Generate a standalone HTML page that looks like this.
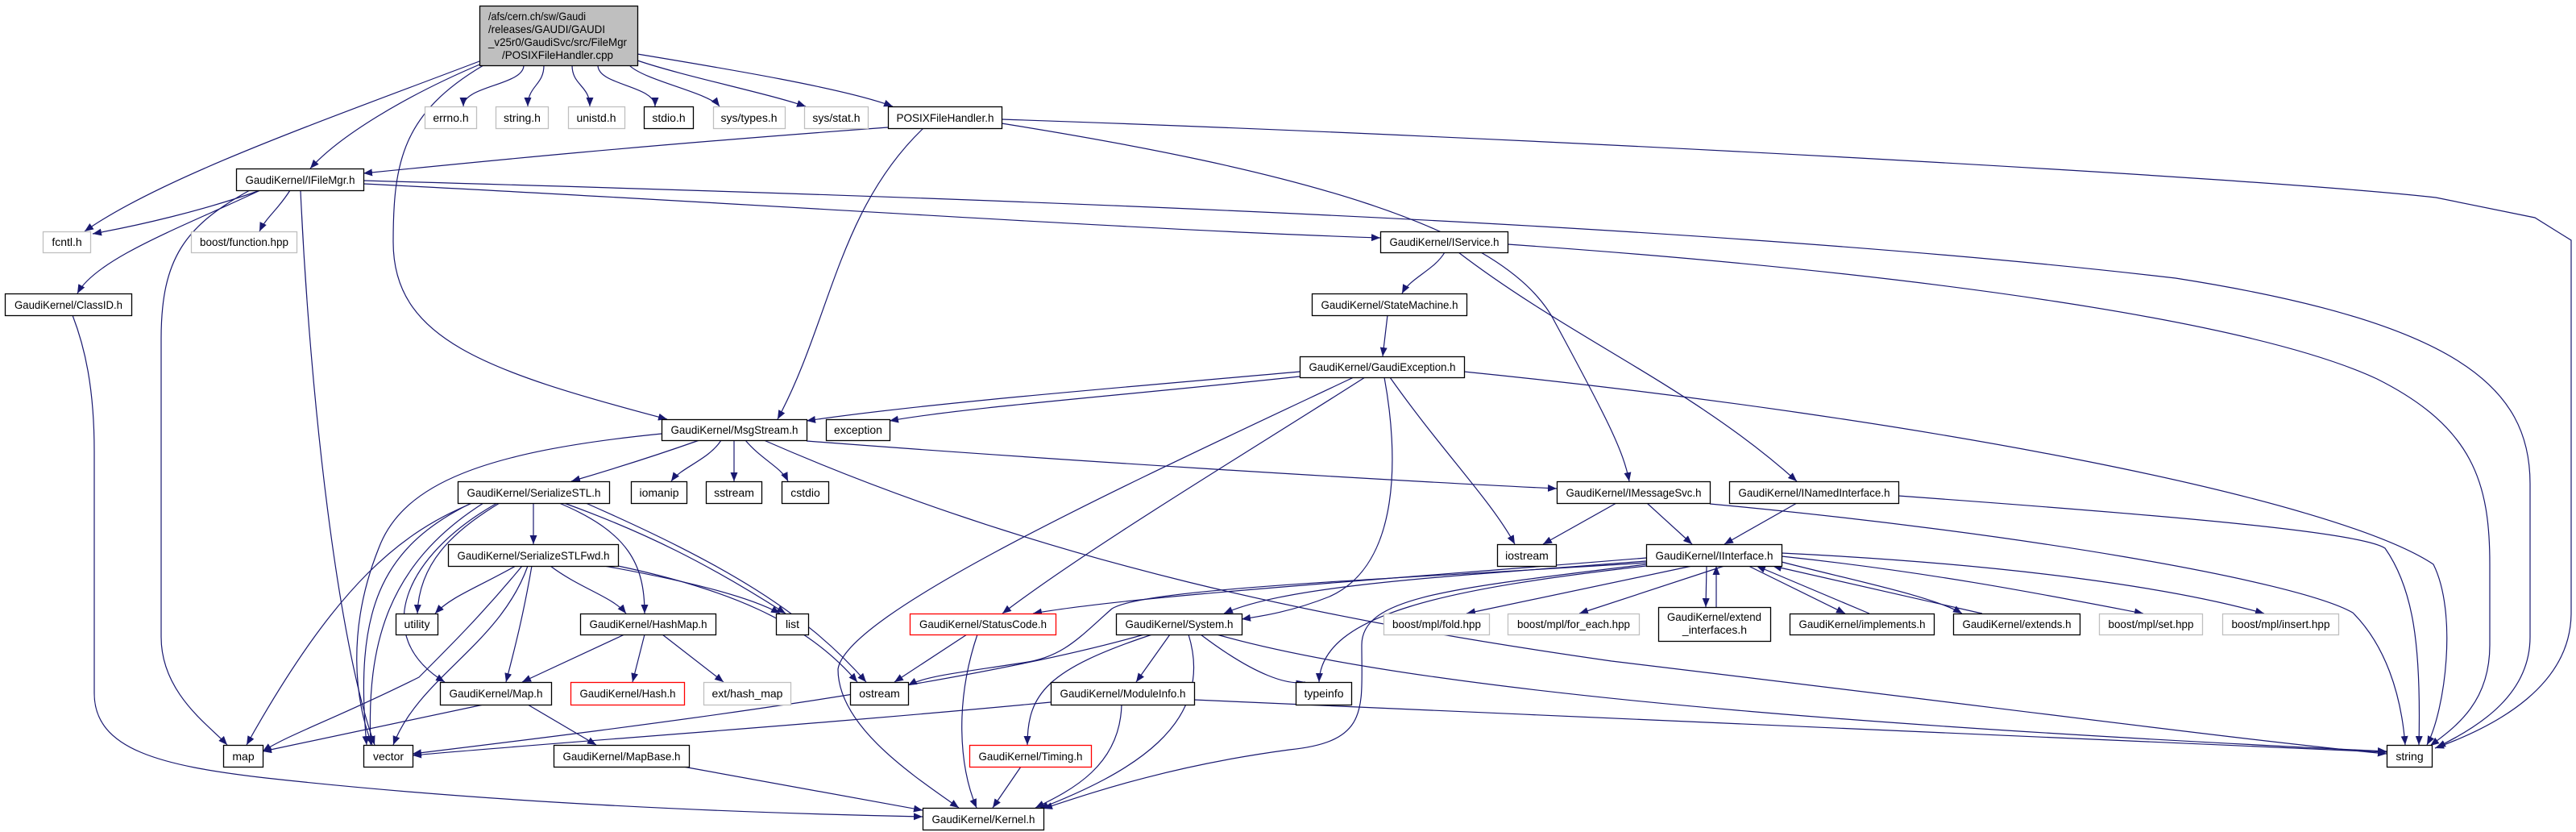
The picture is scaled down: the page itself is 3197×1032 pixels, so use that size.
<!DOCTYPE html>
<html><head><meta charset="utf-8"><style>
html,body{margin:0;padding:0;background:#fff;}
svg{display:block;}
text{font-family:"Liberation Sans",sans-serif;font-size:14px;fill:#000;}
.e{fill:none;stroke:#191970;stroke-width:1.2;marker-end:url(#a);}
rect{stroke-width:1.3;}
.n{fill:#fff;stroke:#000;}
.g{fill:#fff;stroke:#bfbfbf;}
.r{fill:#fff;stroke:#ff0000;}
</style></head><body>
<svg width="3197" height="1032" viewBox="0 0 3197 1032" xmlns="http://www.w3.org/2000/svg">
<defs><marker id="a" markerUnits="userSpaceOnUse" markerWidth="12" markerHeight="9" refX="11" refY="4.5" orient="auto"><path d="M0,0 L11,4.5 L0,9 z" fill="#191970"/></marker></defs>
<g>
<!-- main -->
<path class="e" d="M650,81 C650,106 575,106 575,132"/>
<path class="e" d="M675,81 C675,106 655,106 655,132"/>
<path class="e" d="M710,81 C710,106 732,106 732,132"/>
<path class="e" d="M742,81 C742,106 813,106 813,132"/>
<path class="e" d="M781,81 C800,100 880,115 893,132"/>
<path class="e" d="M791,75 C850,95 950,115 1000,132"/>
<path class="e" d="M791,67 C900,85 1050,110 1108,132"/>
<path class="e" d="M600,78 C500,120 420,170 385,209"/>
<path class="e" d="M595,76 C400,150 200,220 105,287"/>
<path class="e" d="M600,81 C500,140 488,200 488,300 C488,420 600,460 828,520"/>
<!-- POSIX -->
<path class="e" d="M1102,158 C800,180 600,200 451,215"/>
<path class="e" d="M1146,159 C1040,260 1030,400 965,520"/>
<path class="e" d="M1243,153 C1600,210 1870,280 1930,400 C1995,520 2015,560 2022,597"/>
<path class="e" d="M1243,148 C1900,170 2800,220 3023,245 L3146,270 L3191,298 L3191,760 C3191,850 3100,900 3022,928"/>
<!-- IFileMgr -->
<path class="e" d="M323,236 C250,262 170,280 115,290"/>
<path class="e" d="M360,236 C345,260 330,270 322,287"/>
<path class="e" d="M323,236 C230,280 120,320 96,364"/>
<path class="e" d="M310,236 C230,280 200,320 200,420 L200,790 C200,860 260,900 282,924"/>
<path class="e" d="M373,237 C385,500 420,800 465,924"/>
<path class="e" d="M451,228 C900,250 1400,285 1713,295"/>
<path class="e" d="M451,224 C1200,245 2100,275 2700,345 C3050,400 3140,480 3140,600 L3140,790 C3140,860 3080,900 3024,927"/>
<!-- ClassID -->
<path class="e" d="M90,391 C105,430 117,480 117,560 L117,860 C117,930 200,950 330,965 C600,995 900,1008 1145,1013"/>
<!-- IService -->
<path class="e" d="M1793,313 C1780,335 1750,345 1740,364"/>
<path class="e" d="M1810,313 C1950,420 2100,480 2230,597"/>
<path class="e" d="M1871,303 C2400,340 2800,400 2950,470 C3070,530 3090,600 3090,700 L3090,800 C3090,870 3050,900 3016,925"/>
<path class="e" d="M1722,391 L1716,442"/>
<!-- GaudiException -->
<path class="e" d="M1613,461 C1400,480 1150,500 1001,522"/>
<path class="e" d="M1613,467 C1400,490 1200,505 1104,522"/>
<path class="e" d="M1725,468 C1790,560 1850,620 1880,675"/>
<path class="e" d="M1694,468 C1550,560 1350,680 1244,761"/>
<path class="e" d="M1718,468 C1735,560 1740,700 1650,740 C1600,760 1560,765 1541,768"/>
<path class="e" d="M1680,468 C1400,600 1050,760 1040,830 C1040,900 1130,960 1190,1002"/>
<path class="e" d="M1817,461 C2400,520 2900,620 3020,700 C3050,760 3035,880 3012,924"/>
<!-- MsgStream -->
<path class="e" d="M868,546 C800,570 750,585 709,597"/>
<path class="e" d="M895,546 C880,570 845,580 833,597"/>
<path class="e" d="M911,546 L911,597"/>
<path class="e" d="M925,546 C945,570 970,580 978,597"/>
<path class="e" d="M1001,547 C1300,570 1700,595 1932,606"/>
<path class="e" d="M948,546 C1300,700 1650,770 2000,820 C2500,880 2800,920 2962,935"/>
<path class="e" d="M821,538 C600,560 500,600 470,680 C430,780 440,870 462,924"/>
<!-- SerializeSTL -->
<path class="e" d="M662,624 L662,675"/>
<path class="e" d="M620,624 C560,660 520,700 518,761"/>
<path class="e" d="M586,624 C500,660 420,720 306,924"/>
<path class="e" d="M585,624 C470,680 440,760 455,924"/>
<path class="e" d="M600,624 C480,700 455,800 460,924"/>
<path class="e" d="M700,624 C800,660 880,700 975,761"/>
<path class="e" d="M694,624 C780,660 800,700 800,761"/>
<path class="e" d="M617,624 C500,690 460,790 552,846"/>
<path class="e" d="M727,624 C900,700 1000,760 1075,846"/>
<!-- Fwd -->
<path class="e" d="M640,702 C590,730 560,740 540,761"/>
<path class="e" d="M683,702 C720,730 760,740 777,761"/>
<path class="e" d="M660,702 C650,760 640,800 628,846"/>
<path class="e" d="M648,702 C600,760 560,800 520,840 C420,890 360,910 326,932"/>
<path class="e" d="M655,702 C620,800 520,840 488,924"/>
<path class="e" d="M750,702 C850,720 930,740 968,761"/>
<path class="e" d="M767,702 C900,730 1000,770 1064,846"/>
<!-- HashMap / Map -->
<path class="e" d="M775,787 L648,846"/>
<path class="e" d="M800,787 L785,846"/>
<path class="e" d="M822,787 L898,846"/>
<path class="e" d="M600,874 L326,932"/>
<path class="e" d="M655,874 L740,924"/>
<path class="e" d="M848,951 L1145,1005"/>
<!-- IMessageSvc / INamed -->
<path class="e" d="M2006,624 L1915,675"/>
<path class="e" d="M2044,624 L2100,675"/>
<path class="e" d="M2122,625 C2500,660 2850,720 2920,760 C2960,800 2980,860 2985,924"/>
<path class="e" d="M2230,624 L2140,675"/>
<path class="e" d="M2356,615 C2700,640 2930,660 2960,680 C2995,730 3005,800 3002,924"/>
<!-- IInterface -->
<path class="e" d="M2043,692 C1700,720 1400,740 1282,761"/>
<path class="e" d="M2043,696 C1800,715 1600,725 1519,761"/>
<path class="e" d="M2043,698 C1700,720 1420,730 1380,755 C1340,790 1320,815 1270,822 C1200,833 1150,838 1127,850"/>
<path class="e" d="M2043,702 C1800,730 1640,760 1637,846"/>
<path class="e" d="M2043,700 C1800,730 1690,740 1690,800 C1690,880 1700,920 1600,930 C1450,950 1350,985 1295,1003"/>
<path class="e" d="M2100,702 L1820,761"/>
<path class="e" d="M2140,702 L1960,761"/>
<path class="e" d="M2118,702 L2117,753"/>
<path class="e" d="M2130,753 L2130,702"/>
<path class="e" d="M2170,702 L2290,761"/>
<path class="e" d="M2320,761 L2180,702"/>
<path class="e" d="M2211,697 C2300,720 2400,740 2435,761"/>
<path class="e" d="M2460,761 L2200,702"/>
<path class="e" d="M2211,690 C2400,710 2550,740 2660,761"/>
<path class="e" d="M2211,686 C2500,700 2700,730 2810,761"/>
<!-- StatusCode / System / ModuleInfo / Timing -->
<path class="e" d="M1200,787 L1110,846"/>
<path class="e" d="M1213,787 C1185,870 1190,950 1212,1002"/>
<path class="e" d="M1420,787 C1200,850 800,900 512,935"/>
<path class="e" d="M1430,787 C1300,830 1275,860 1275,924"/>
<path class="e" d="M1452,787 L1410,846"/>
<path class="e" d="M1475,787 C1510,900 1400,960 1290,1003"/>
<path class="e" d="M1490,787 C1560,840 1600,850 1620,846"/>
<path class="e" d="M1510,787 C1800,870 2500,910 2962,932"/>
<path class="e" d="M1304,871 C1000,900 700,920 512,937"/>
<path class="e" d="M1392,874 C1390,950 1330,980 1285,1002"/>
<path class="e" d="M1482,868 C2000,890 2600,920 2962,933"/>
<path class="e" d="M1267,951 L1232,1002"/>
</g>
<g>
<rect x="595.5" y="7.5" width="196" height="74" fill="#bfbfbf" stroke="#000"/>
<text x="606" y="25" textLength="121" lengthAdjust="spacingAndGlyphs">/afs/cern.ch/sw/Gaudi</text>
<text x="606" y="41" textLength="145" lengthAdjust="spacingAndGlyphs">/releases/GAUDI/GAUDI</text>
<text x="606" y="57" textLength="172" lengthAdjust="spacingAndGlyphs">_v25r0/GaudiSvc/src/FileMgr</text>
<text x="623" y="73" textLength="138" lengthAdjust="spacingAndGlyphs">/POSIXFileHandler.cpp</text>
</g>
<g text-anchor="middle">
<rect class="g" x="527.5" y="132.5" width="64" height="27"/><text x="559.5" y="151">errno.h</text>
<rect class="g" x="615.5" y="132.5" width="65" height="27"/><text x="648" y="151">string.h</text>
<rect class="g" x="705.5" y="132.5" width="70" height="27"/><text x="740" y="151">unistd.h</text>
<rect class="n" x="799.5" y="132.5" width="61" height="27"/><text x="830" y="151">stdio.h</text>
<rect class="g" x="885.5" y="132.5" width="89" height="27"/><text x="929.5" y="151">sys/types.h</text>
<rect class="g" x="998.5" y="132.5" width="79" height="27"/><text x="1038" y="151">sys/stat.h</text>
<rect class="n" x="1102.5" y="132.5" width="141" height="27"/><text x="1173" y="151" textLength="121" lengthAdjust="spacingAndGlyphs">POSIXFileHandler.h</text>
<rect class="n" x="293.5" y="209.5" width="158" height="27"/><text x="372.5" y="228" textLength="136" lengthAdjust="spacingAndGlyphs">GaudiKernel/IFileMgr.h</text>
<rect class="g" x="53.5" y="287.5" width="59" height="26"/><text x="83" y="305">fcntl.h</text>
<rect class="g" x="237.5" y="287.5" width="131" height="26"/><text x="303" y="305" textLength="110" lengthAdjust="spacingAndGlyphs">boost/function.hpp</text>
<rect class="n" x="1713.5" y="287.5" width="158" height="26"/><text x="1792.5" y="305" textLength="136" lengthAdjust="spacingAndGlyphs">GaudiKernel/IService.h</text>
<rect class="n" x="6.5" y="364.5" width="157" height="27"/><text x="85" y="383" textLength="134" lengthAdjust="spacingAndGlyphs">GaudiKernel/ClassID.h</text>
<rect class="n" x="1628.5" y="364.5" width="192" height="27"/><text x="1724.5" y="383" textLength="170" lengthAdjust="spacingAndGlyphs">GaudiKernel/StateMachine.h</text>
<rect class="n" x="1613.5" y="442.5" width="204" height="26"/><text x="1715.5" y="460" textLength="182" lengthAdjust="spacingAndGlyphs">GaudiKernel/GaudiException.h</text>
<rect class="n" x="821.5" y="520.5" width="180" height="26"/><text x="911.5" y="538" textLength="158" lengthAdjust="spacingAndGlyphs">GaudiKernel/MsgStream.h</text>
<rect class="n" x="1025.5" y="520.5" width="79" height="26"/><text x="1065" y="538">exception</text>
<rect class="n" x="568.5" y="597.5" width="188" height="27"/><text x="662.5" y="616" textLength="166" lengthAdjust="spacingAndGlyphs">GaudiKernel/SerializeSTL.h</text>
<rect class="n" x="783.5" y="597.5" width="69" height="27"/><text x="818" y="616">iomanip</text>
<rect class="n" x="876.5" y="597.5" width="69" height="27"/><text x="911" y="616">sstream</text>
<rect class="n" x="970.5" y="597.5" width="58" height="27"/><text x="999.5" y="616">cstdio</text>
<rect class="n" x="1932.5" y="597.5" width="190" height="27"/><text x="2027.5" y="616" textLength="168" lengthAdjust="spacingAndGlyphs">GaudiKernel/IMessageSvc.h</text>
<rect class="n" x="2146.5" y="597.5" width="210" height="27"/><text x="2251.5" y="616" textLength="188" lengthAdjust="spacingAndGlyphs">GaudiKernel/INamedInterface.h</text>
<rect class="n" x="556.5" y="675.5" width="211" height="27"/><text x="662" y="694" textLength="189" lengthAdjust="spacingAndGlyphs">GaudiKernel/SerializeSTLFwd.h</text>
<rect class="n" x="1858.5" y="675.5" width="73" height="27"/><text x="1895" y="694">iostream</text>
<rect class="n" x="2043.5" y="675.5" width="168" height="27"/><text x="2127.5" y="694" textLength="146" lengthAdjust="spacingAndGlyphs">GaudiKernel/IInterface.h</text>
<rect class="n" x="491.5" y="761.5" width="52" height="26"/><text x="517.5" y="779">utility</text>
<rect class="n" x="720.5" y="761.5" width="168" height="26"/><text x="804.5" y="779" textLength="146" lengthAdjust="spacingAndGlyphs">GaudiKernel/HashMap.h</text>
<rect class="n" x="963.5" y="761.5" width="40" height="26"/><text x="983.5" y="779">list</text>
<rect class="r" x="1129.5" y="761.5" width="181" height="26"/><text x="1220" y="779" textLength="158" lengthAdjust="spacingAndGlyphs">GaudiKernel/StatusCode.h</text>
<rect class="n" x="1385.5" y="761.5" width="156" height="26"/><text x="1463.5" y="779" textLength="134" lengthAdjust="spacingAndGlyphs">GaudiKernel/System.h</text>
<rect class="g" x="1717.5" y="761.5" width="131" height="26"/><text x="1783" y="779" textLength="110" lengthAdjust="spacingAndGlyphs">boost/mpl/fold.hpp</text>
<rect class="g" x="1871.5" y="761.5" width="163" height="26"/><text x="1953" y="779" textLength="140" lengthAdjust="spacingAndGlyphs">boost/mpl/for_each.hpp</text>
<rect class="n" x="2058.5" y="753.5" width="139" height="42"/><text x="2127.5" y="770" textLength="117" lengthAdjust="spacingAndGlyphs">GaudiKernel/extend</text><text x="2128" y="786">_interfaces.h</text>
<rect class="n" x="2221.5" y="761.5" width="179" height="26"/><text x="2311" y="779" textLength="157" lengthAdjust="spacingAndGlyphs">GaudiKernel/implements.h</text>
<rect class="n" x="2424.5" y="761.5" width="157" height="26"/><text x="2503" y="779" textLength="135" lengthAdjust="spacingAndGlyphs">GaudiKernel/extends.h</text>
<rect class="g" x="2605.5" y="761.5" width="128" height="26"/><text x="2669.5" y="779" textLength="106" lengthAdjust="spacingAndGlyphs">boost/mpl/set.hpp</text>
<rect class="g" x="2758.5" y="761.5" width="144" height="26"/><text x="2830.5" y="779" textLength="122" lengthAdjust="spacingAndGlyphs">boost/mpl/insert.hpp</text>
<rect class="n" x="546.5" y="846.5" width="138" height="28"/><text x="615.5" y="865" textLength="116" lengthAdjust="spacingAndGlyphs">GaudiKernel/Map.h</text>
<rect class="r" x="708.5" y="846.5" width="141" height="28"/><text x="779" y="865" textLength="119" lengthAdjust="spacingAndGlyphs">GaudiKernel/Hash.h</text>
<rect class="g" x="873.5" y="846.5" width="108" height="28"/><text x="927.5" y="865">ext/hash_map</text>
<rect class="n" x="1055.5" y="846.5" width="72" height="28"/><text x="1091.5" y="865">ostream</text>
<rect class="n" x="1304.5" y="846.5" width="178" height="28"/><text x="1393.5" y="865" textLength="156" lengthAdjust="spacingAndGlyphs">GaudiKernel/ModuleInfo.h</text>
<rect class="n" x="1608.5" y="846.5" width="69" height="28"/><text x="1643" y="865">typeinfo</text>
<rect class="n" x="277.5" y="924.5" width="49" height="27"/><text x="302" y="943">map</text>
<rect class="n" x="451.5" y="924.5" width="61" height="27"/><text x="482" y="943">vector</text>
<rect class="n" x="687.5" y="924.5" width="168" height="27"/><text x="771.5" y="943" textLength="146" lengthAdjust="spacingAndGlyphs">GaudiKernel/MapBase.h</text>
<rect class="r" x="1203.5" y="924.5" width="151" height="27"/><text x="1279" y="943" textLength="129" lengthAdjust="spacingAndGlyphs">GaudiKernel/Timing.h</text>
<rect class="n" x="2962.5" y="924.5" width="56" height="27"/><text x="2990.5" y="943">string</text>
<rect class="n" x="1145.5" y="1002.5" width="150" height="27"/><text x="1220.5" y="1021" textLength="128" lengthAdjust="spacingAndGlyphs">GaudiKernel/Kernel.h</text>
</g>
</svg>
</body></html>
